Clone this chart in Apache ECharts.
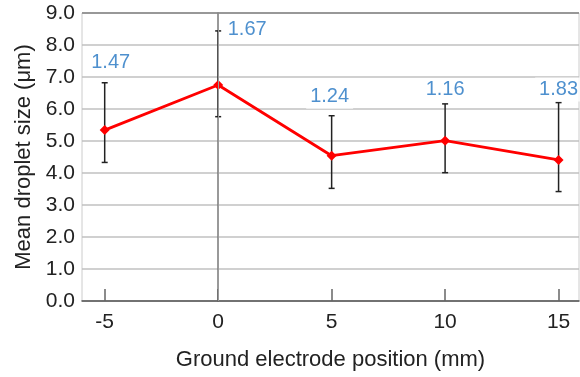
<!DOCTYPE html>
<html>
<head>
<meta charset="utf-8">
<script src="https://cdn.jsdelivr.net/npm/echarts@6/dist/echarts.min.js"></script>
<style>
	html, body { margin: 0; padding: 0; background: #fff; }
	#chart { width: 580px; height: 377px; }
</style>
</head>
<body>
<div id="chart"></div>
<script>
var positions = [-5, 0, 5, 10, 15];
var meanSize = [5.34, 6.75, 4.54, 5.01, 4.41];
var errHigh = [6.82, 8.44, 5.79, 6.16, 6.20];
var errLow = [4.33, 5.76, 3.52, 4.01, 3.42];
var errLabels = ['1.47', '1.67', '1.24', '1.16', '1.83'];

var FONT = '"Liberation Sans", Arial, sans-serif';
// where each number sits relative to the top of its bar (px)
var labelShift = [[6, -20], [29, -1], [-2, -19], [0, -14], [0, -13]];

var myChart = echarts.init(document.getElementById('chart'));

var option = {
	animation: false,
	grid: {
		left: 82,
		right: 1,
		top: 13,
		bottom: 76,
		show: true,
		borderColor: '#cccccc',
		borderWidth: 1
	},
	xAxis: {
		type: 'value',
		min: -6,
		max: 15.9,
		name: 'Ground electrode position (mm)',
		nameLocation: 'middle',
		nameGap: 48,
		nameTextStyle: { fontFamily: FONT, fontSize: 22, color: '#222' },
		splitLine: { show: false },
		axisLine: { lineStyle: { color: '#555', width: 1.5 } },
		axisTick: {
			show: true,
			inside: true,
			length: 12,
			customValues: positions,
			lineStyle: { color: '#666', width: 1.5 }
		},
		axisLabel: {
			customValues: positions,
			margin: 11,
			fontFamily: FONT,
			fontSize: 21,
			color: '#222'
		}
	},
	yAxis: {
		type: 'value',
		min: 0,
		max: 9,
		interval: 1,
		name: 'Mean droplet size (μm)',
		nameLocation: 'middle',
		nameGap: 47,
		nameTextStyle: { fontFamily: FONT, fontSize: 22, color: '#222' },
		axisLine: { show: true, lineStyle: { color: '#777', width: 1.5 } },
		axisTick: { show: false },
		splitLine: { lineStyle: { color: '#c0c0c0', width: 1.5 } },
		axisLabel: {
			margin: 7,
			fontFamily: FONT,
			fontSize: 21,
			color: '#222',
			formatter: function(v) { return v.toFixed(1); }
		}
	},
	series: [{
		// reference lines only: x = 0 and the frame top
		type: 'line',
		z: 1,
		data: [],
		markLine: {
			silent: true,
			symbol: 'none',
			label: { show: false },
			data: [
				{ xAxis: 0, lineStyle: { color: '#999', type: 'solid', width: 1 } },
				{ yAxis: 9, lineStyle: { color: '#888', type: 'solid', width: 1.5 } }
			]
		}
	}, {
		type: 'custom',
		z: 2,
		data: positions.map(function(x, i) { return [x, errLow[i], errHigh[i]]; }),
		renderItem: function(params, api) {
			var lo = api.coord([api.value(0), api.value(1)]);
			var hi = api.coord([api.value(0), api.value(2)]);
			var w = 3;
			var st = { stroke: '#222', lineWidth: 1.5 };
			return {
				type: 'group',
				children: [
					{ type: 'line', shape: { x1: lo[0], y1: lo[1], x2: hi[0], y2: hi[1] }, style: st },
					{ type: 'line', shape: { x1: lo[0] - w, y1: lo[1], x2: lo[0] + w, y2: lo[1] }, style: st },
					{ type: 'line', shape: { x1: hi[0] - w, y1: hi[1], x2: hi[0] + w, y2: hi[1] }, style: st }
				]
			};
		}
	}, {
		type: 'line',
		z: 3,
		data: positions.map(function(x, i) { return [x, meanSize[i]]; }),
		symbol: 'diamond',
		symbolSize: 10,
		itemStyle: { color: '#ff0000' },
		lineStyle: { color: '#ff0000', width: 2.8 }
	}, {
		type: 'scatter',
		z: 4,
		symbolSize: 0,
		data: positions.map(function(x, i) {
			return {
				value: [x, errHigh[i]],
				name: errLabels[i],
				label: { offset: labelShift[i] }
			};
		}),
		label: {
			show: true,
			position: 'inside',
			formatter: '{b}',
			fontFamily: FONT,
			fontSize: 20,
			color: '#2274c2',
			backgroundColor: '#fff',
			padding: [2, 4]
		}
	}]
};

myChart.setOption(option);
</script>
</body>
</html>
